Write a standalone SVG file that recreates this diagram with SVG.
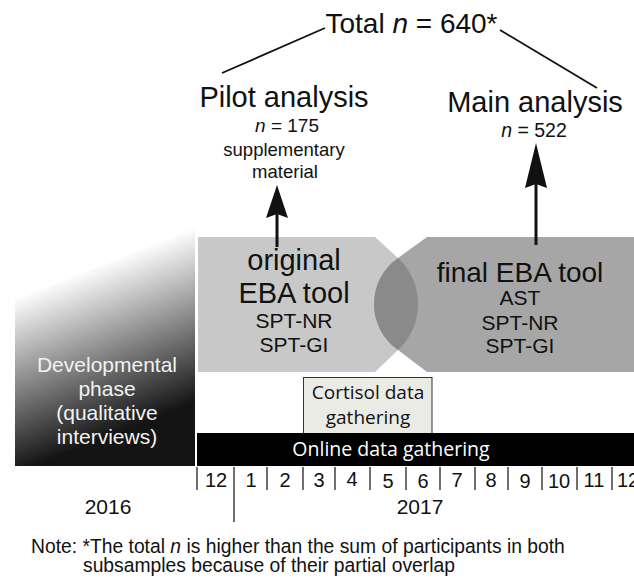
<svg xmlns="http://www.w3.org/2000/svg" width="634" height="581" viewBox="0 0 634 581">
  <defs>
    <linearGradient id="devGrad" gradientUnits="userSpaceOnUse" x1="105" y1="262" x2="165" y2="414">
      <stop offset="0" stop-color="#ffffff"/>
      <stop offset="1" stop-color="#141414"/>
    </linearGradient>
    <style>
      .a { font-family: "Liberation Sans", Arial, sans-serif; fill: #111; }
      .o { font-family: "Open Sans", "Noto Sans", sans-serif; }
      .mid { text-anchor: middle; }
      .ln { stroke: #111; stroke-width: 1.8; fill: none; }
      .shaft { stroke: #111; stroke-width: 3; fill: none; }
      .head { fill: #111; }
      .tick { stroke: #222; stroke-width: 1.3; }
      .num { font-family: "Liberation Sans", Arial, sans-serif; font-size: 20px; fill: #111; text-anchor: middle; }
      .dev { fill: #f2f2f2; }
    </style>
  </defs>

  <rect width="634" height="581" fill="#ffffff"/>

  <g id="dev-phase">
    <path d="M15,300 L195,228 L195,466 L15,466 Z" fill="url(#devGrad)"/>
    <text class="a mid dev" x="107" y="372" font-size="21">Developmental</text>
    <text class="a mid dev" x="107" y="396" font-size="21">phase</text>
    <text class="a mid dev" x="107" y="420" font-size="21">(qualitative</text>
    <text class="a mid dev" x="107" y="444" font-size="21">interviews)</text>
  </g>

  <g id="original-tool">
    <path d="M198,237 H375 L398,258 A62.9,62.9 0 0 1 398,350 L375,372 H198 Z" fill="#c8c8c8"/>
  </g>
  <g id="final-tool">
    <path d="M634,237 H427 L398,258 A56.1,56.1 0 0 0 398,350 L427,372 H634 Z" fill="#a6a6a6"/>
  </g>
  <g id="overlap">
    <path d="M398,258 A62.9,62.9 0 0 1 398,350 A56.1,56.1 0 0 1 398,258 Z" fill="#8a8a8a"/>
  </g>
  <g id="original-tool-text">
    <text class="a mid" x="294" y="270" font-size="29">original</text>
    <text class="a mid" x="294" y="303" font-size="29">EBA tool</text>
    <text class="a mid" x="294" y="328" font-size="21">SPT-NR</text>
    <text class="a mid" x="294" y="352" font-size="21">SPT-GI</text>
  </g>
  <g id="final-tool-text">
    <text class="a mid" x="520" y="282" font-size="28">final EBA tool</text>
    <text class="a mid" x="520" y="305" font-size="21">AST</text>
    <text class="a mid" x="520" y="330" font-size="21">SPT-NR</text>
    <text class="a mid" x="520" y="353" font-size="21">SPT-GI</text>
  </g>

  <g id="cortisol">
    <rect x="303.5" y="377.5" width="128.5" height="56" fill="#ebebe6" stroke="#333" stroke-width="1"/>
    <text class="o mid" x="368" y="399" font-size="19" fill="#111">Cortisol data</text>
    <text class="o mid" x="368" y="424" font-size="19" fill="#111">gathering</text>
  </g>

  <g id="online">
    <rect x="197" y="433" width="437" height="33" fill="#000"/>
    <text class="o mid" x="391" y="456" font-size="19.5" fill="#ffffff">Online data gathering</text>
  </g>

  <g id="timeline">
    <line class="tick" x1="197" y1="467" x2="197" y2="490"/>
    <line class="tick" x1="234" y1="467" x2="234" y2="522"/>
    <line class="tick" x1="267" y1="467" x2="267" y2="490"/>
    <line class="tick" x1="303" y1="467" x2="303" y2="490"/>
    <line class="tick" x1="335" y1="467" x2="335" y2="490"/>
    <line class="tick" x1="370" y1="467" x2="370" y2="490"/>
    <line class="tick" x1="406" y1="467" x2="406" y2="490"/>
    <line class="tick" x1="440" y1="467" x2="440" y2="490"/>
    <line class="tick" x1="475" y1="467" x2="475" y2="490"/>
    <line class="tick" x1="508" y1="467" x2="508" y2="490"/>
    <line class="tick" x1="542" y1="467" x2="542" y2="490"/>
    <line class="tick" x1="577" y1="467" x2="577" y2="490"/>
    <line class="tick" x1="612" y1="467" x2="612" y2="490"/>
    <text class="num" x="216" y="487">12</text>
    <text class="num" x="251" y="487">1</text>
    <text class="num" x="285" y="487">2</text>
    <text class="num" x="319" y="487">3</text>
    <text class="num" x="352" y="486">4</text>
    <text class="num" x="388" y="488">5</text>
    <text class="num" x="423" y="488">6</text>
    <text class="num" x="457" y="487">7</text>
    <text class="num" x="491" y="487">8</text>
    <text class="num" x="525" y="488">9</text>
    <text class="num" x="559" y="488">10</text>
    <text class="num" x="594" y="487">11</text>
    <text class="num" x="628" y="487">12</text>
    <text class="a mid" x="108" y="514" font-size="21">2016</text>
    <text class="a mid" x="420" y="514" font-size="21">2017</text>
  </g>

  <g id="total">
    <text class="a mid" x="411.5" y="33" font-size="28">Total <tspan font-style="italic">n</tspan> = 640*</text>
  </g>
  <g id="pilot">
    <text class="a mid" x="284" y="107" font-size="29">Pilot analysis</text>
    <text class="a mid" x="287" y="132" font-size="19"><tspan font-style="italic">n</tspan> = 175</text>
    <text class="a mid" x="284" y="156" font-size="18.5">supplementary</text>
    <text class="a mid" x="285" y="178" font-size="18.5">material</text>
  </g>
  <g id="main">
    <text class="a mid" x="535" y="112" font-size="29">Main analysis</text>
    <text class="a mid" x="534" y="137" font-size="19.5"><tspan font-style="italic">n</tspan> = 522</text>
  </g>

  <g id="connectors">
    <line class="ln" x1="325" y1="28" x2="222" y2="73"/>
    <line class="ln" x1="500" y1="30" x2="597" y2="88"/>
    <line class="shaft" x1="277" y1="247" x2="277" y2="212"/>
    <path class="head" d="M277,185 L288,218 L277,214 L266,218 Z"/>
    <line class="shaft" x1="536" y1="245" x2="536" y2="182"/>
    <path class="head" d="M536,143 L547,188 L536,184 L525,188 Z"/>
  </g>

  <g id="note">
    <text class="a" x="31" y="553" font-size="19.3">Note: *The total <tspan font-style="italic">n</tspan> is higher than the sum of participants in both</text>
    <text class="a" x="83" y="572" font-size="19.3">subsamples because of their partial overlap</text>
  </g>
</svg>
